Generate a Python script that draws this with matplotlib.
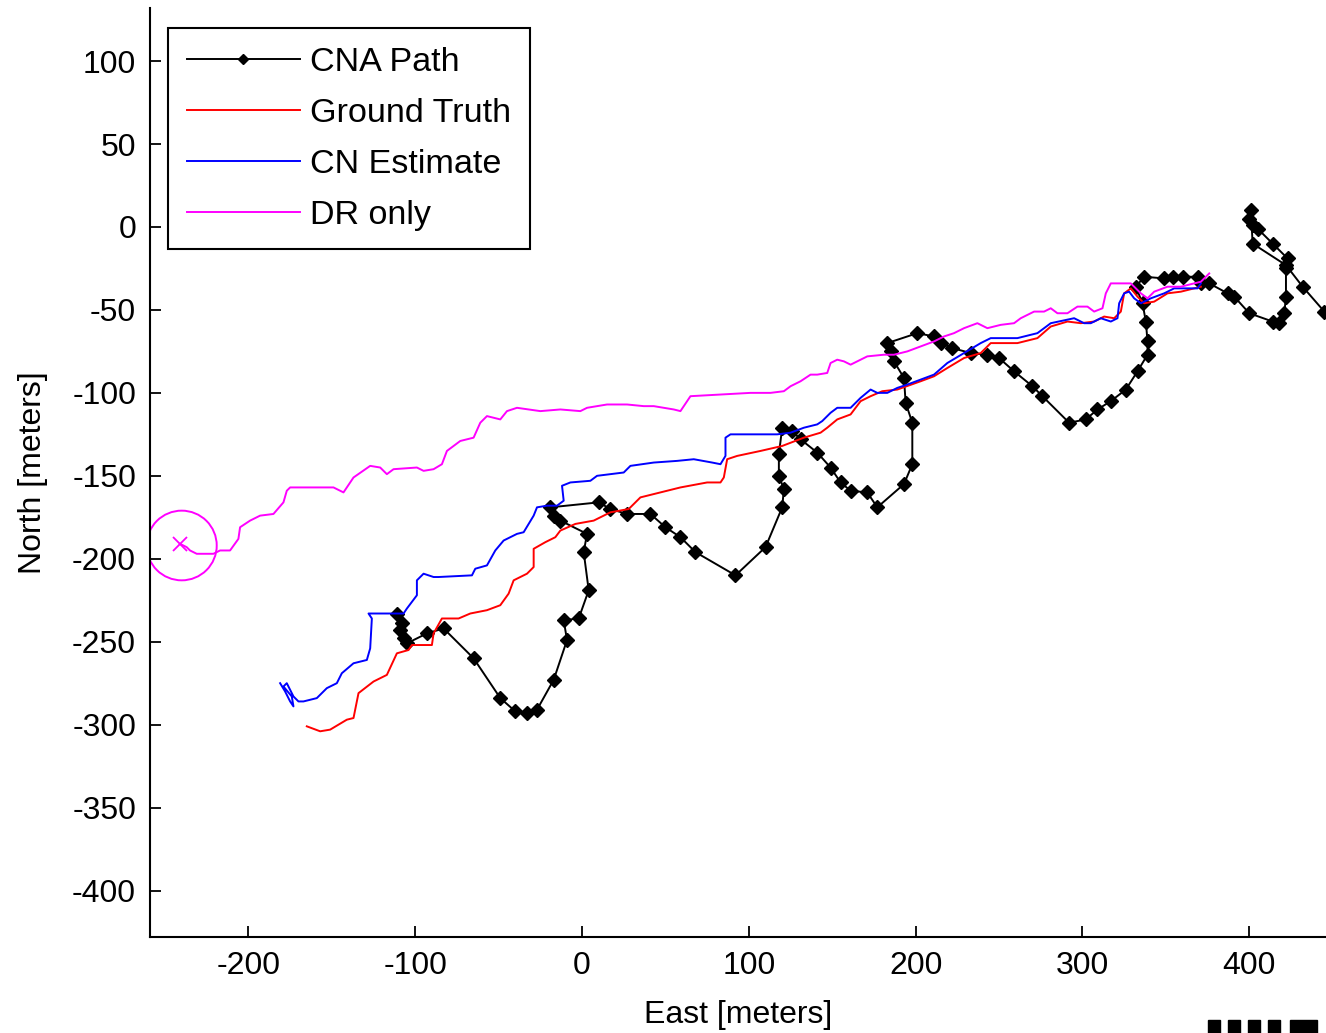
import matplotlib
matplotlib.use("Agg")
import matplotlib.pyplot as plt
from matplotlib.patches import Circle, Rectangle

plt.rcParams['font.family'] = ['Liberation Sans', 'DejaVu Sans']
plt.rcParams['font.size'] = 23
plt.rcParams['axes.unicode_minus'] = False

# CNA path (East, North) in meters
cna_e = [-111, -108, -109, -107, -105, -93, -83, -65, -49, -40, -33, -27, -17, -9, -11, -2, 4, 1, 3,
         -13, -17, -19, 10, 17, 27, 41, 50, 59, 68, 92, 110, 120, 121, 118, 118, 120, 126, 131, 141,
         149, 155, 161, 171, 177, 193, 198, 198, 194, 193, 187, 185, 183, 201, 211, 215, 222, 233,
         243, 250, 259, 270, 276, 292, 302, 309, 317, 326, 333, 339, 339, 338, 336, 332, 337, 349,
         354, 360, 369, 371, 376, 387, 391, 400, 414, 418, 421, 422, 422, 423, 414, 405, 402, 400,
         401, 402, 422, 432, 445, 458]
cna_n = [-233, -239, -243, -248, -251, -245, -242, -260, -284, -292, -293, -291, -273, -249, -237,
         -236, -219, -196, -185, -177, -174, -169, -166, -170, -173, -173, -181, -187, -196, -210,
         -193, -169, -158, -150, -137, -121, -123, -128, -136, -145, -154, -159, -160, -169, -155,
         -143, -118, -106, -91, -81, -75, -70, -64, -66, -70, -73, -76, -77, -79, -87, -96, -102,
         -118, -116, -110, -105, -98, -87, -77, -69, -57, -46, -36, -30, -31, -30, -30, -30, -34,
         -34, -40, -42, -52, -57, -58, -52, -42, -25, -19, -10, -1, 1, 5, 10, -10, -23, -36, -51, -63]

# Ground truth
gt_e = [-165, -157, -151, -141, -137, -134, -125, -117, -111, -104, -102, -90, -89, -84, -74, -67,
        -57, -49, -44, -41, -33, -29, -29, -22, -16, -13, -4, 7, 17, 28, 35, 59, 75, 83, 85, 87, 93,
        107, 120, 133, 143, 147, 153, 161, 167, 173, 180, 189, 203, 211, 219, 229, 239, 245, 261,
        273, 281, 291, 299, 307, 313, 319, 323, 325, 329, 333, 337, 343, 351, 359, 367, 371]
gt_n = [-301, -304, -303, -297, -296, -281, -274, -270, -257, -255, -252, -252, -245, -236, -236,
        -233, -231, -228, -221, -213, -209, -205, -194, -190, -187, -183, -179, -177, -172, -170,
        -163, -157, -154, -154, -151, -140, -138, -135, -132, -127, -124, -121, -116, -113, -105,
        -102, -99, -98, -93, -90, -85, -79, -76, -70, -70, -67, -60, -57, -58, -57, -54, -55, -51,
        -40, -37, -42, -46, -45, -40, -39, -37, -36]

# CN estimate
cn_e = [-181, -178, -175, -173, -174, -179, -177, -173, -170, -167, -159, -153, -147, -144, -137,
        -129, -127, -126, -128, -119, -107, -105, -99, -99, -95, -89, -86, -66, -64, -57, -52, -47,
        -39, -35, -32, -29, -27, -21, -15, -11, -12, -7, 5, 9, 25, 29, 43, 57, 67, 78, 83, 86, 86,
        89, 117, 125, 133, 141, 144, 149, 153, 161, 167, 173, 177, 183, 189, 195, 203, 211, 219,
        229, 239, 245, 261, 273, 281, 295, 301, 305, 311, 317, 321, 322, 325, 328, 331, 335, 341,
        349, 355, 363, 369, 371]
cn_n = [-275, -280, -286, -289, -283, -277, -275, -283, -286, -286, -284, -278, -275, -269, -263,
        -261, -254, -236, -233, -233, -233, -230, -222, -213, -209, -211, -211, -210, -206, -204,
        -195, -189, -185, -184, -179, -174, -169, -168, -168, -165, -156, -154, -153, -150, -148,
        -144, -142, -141, -140, -142, -143, -138, -127, -125, -125, -124, -121, -119, -117, -112,
        -109, -109, -103, -98, -100, -100, -97, -95, -92, -89, -82, -76, -70, -67, -67, -64, -58,
        -55, -58, -58, -55, -57, -55, -46, -40, -39, -43, -46, -43, -40, -37, -37, -37, -34]

# Dead reckoning only
dr_e = [376, 371, 359, 351, 343, 339, 335, 329, 323, 317, 314, 312, 307, 303, 297, 291, 285, 281,
        277, 271, 263, 259, 251, 243, 237, 229, 223, 217, 211, 203, 195, 187, 181, 171, 167, 161,
        157, 153, 149, 147, 141, 137, 131, 125, 121, 113, 101, 83, 65, 63, 59, 55, 43, 37, 27, 15,
        3, -1, -13, -25, -39, -45, -49, -57, -61, -65, -73, -81, -84, -89, -95, -99, -113, -117,
        -121, -127, -137, -143, -149, -175, -177, -179, -185, -193, -199, -205, -206, -211, -217,
        -221, -231, -235, -237, -241]
dr_n = [-28, -33, -36, -36, -39, -43, -40, -34, -34, -34, -40, -49, -51, -48, -48, -52, -52, -49,
        -51, -51, -55, -58, -59, -61, -58, -61, -64, -66, -69, -72, -75, -77, -77, -78, -80, -83,
        -81, -80, -82, -88, -89, -89, -93, -96, -99, -100, -100, -101, -102, -105, -111, -110, -108,
        -108, -107, -107, -109, -111, -110, -111, -109, -111, -116, -114, -118, -127, -129, -135,
        -143, -146, -147, -145, -146, -149, -145, -144, -151, -160, -157, -157, -159, -166, -173,
        -174, -177, -181, -188, -195, -195, -197, -197, -195, -193, -191]

dr_circle_center = (-240, -192)
dr_circle_radius = 21

x_ticks = [-200, -100, 0, 100, 200, 300, 400]
y_ticks = [100, 50, 0, -50, -100, -150, -200, -250, -300, -350, -400]

fig = plt.figure(figsize=(13.26, 10.33), dpi=100)
ax = fig.add_axes([150 / 1326, (1033 - 937) / 1033, 1176 / 1326, 929 / 1033])

ax.plot(cna_e, cna_n, color='black', lw=1.4, marker='D', ms=7, label='CNA Path')
ax.plot(gt_e, gt_n, color='red', lw=1.4, label='Ground Truth')
ax.plot(cn_e, cn_n, color='blue', lw=1.4, label='CN Estimate')
ax.plot(dr_e, dr_n, color='magenta', lw=1.4, label='DR only')
ax.plot([dr_e[-1]], [dr_n[-1]], color='magenta', marker='x', ms=10, mew=1.3)
ax.add_patch(Circle(dr_circle_center, dr_circle_radius, fill=False, ec='magenta', lw=1.4))

ax.set_xlim(-259, 446)
ax.set_ylim(-428, 132)
ax.set_xticks(x_ticks)
ax.set_yticks(y_ticks)
ax.spines['top'].set_visible(False)
ax.spines['right'].set_visible(False)
ax.spines['left'].set_linewidth(1.5)
ax.spines['bottom'].set_linewidth(1.5)
ax.tick_params(direction='in', length=8, width=1.3, pad=10)
ax.set_xlabel('East [meters]', labelpad=14)
ax.set_ylabel('North [meters]', labelpad=17)

leg = ax.legend(loc='upper left', bbox_to_anchor=(0.0153, 0.978), borderaxespad=0,
                fontsize=24.6, handlelength=3.3, handletextpad=0.3, labelspacing=0.58,
                borderpad=0.55, fancybox=False, framealpha=1, edgecolor='black')
leg.get_frame().set_linewidth(1.5)
for h in leg.legend_handles:
    h.set_markersize(5)

# cut-off marks at the lower right edge
for x0, w in [(1208, 12), (1228, 12), (1248, 12), (1268, 12), (1290, 27)]:
    fig.add_artist(Rectangle((x0 / 1326, 0), w / 1326, 13 / 1033, color='black',
                             transform=fig.transFigure))

fig.savefig('out.png', dpi=100)
